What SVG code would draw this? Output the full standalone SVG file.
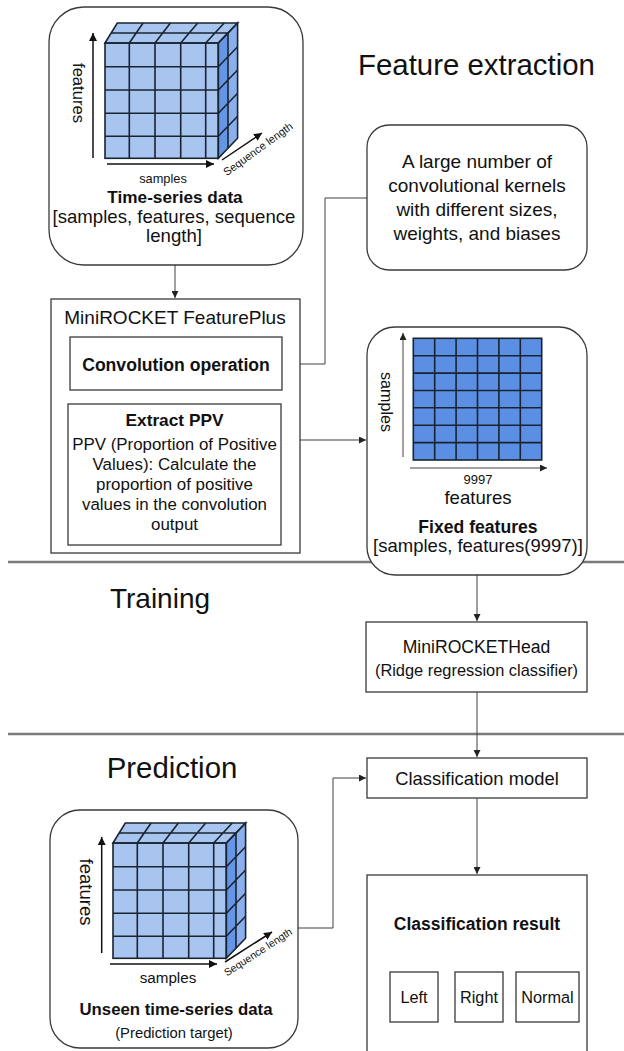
<svg xmlns="http://www.w3.org/2000/svg" width="624" height="1051" viewBox="0 0 624 1051">
  <style>
    text { font-family: "Liberation Sans", Arial, sans-serif; fill: #111; }
    .b { font-weight: bold; }
    .mid { text-anchor: middle; }
    .box { fill: #fff; stroke: #3a3a3a; stroke-width: 1.3; }
    .conn { fill: none; stroke: #404040; stroke-width: 1; }
    .axis { fill: none; stroke: #111; stroke-width: 1.5; }
    .sep { stroke: #7a7a7a; stroke-width: 2.5; }
    .grid { fill: none; stroke: #1a2430; stroke-width: 1.6; }
    .front { fill: #a8c5f0; }
    .sideA { fill: #6596e6; }
    .sideB { fill: #8aafec; }
    .cell { fill: #5b8fe3; }
  </style>
  <defs>
    <marker id="arr" viewBox="0 0 10 10" refX="10" refY="5" markerWidth="7" markerHeight="7" markerUnits="userSpaceOnUse" orient="auto">
      <path d="M0,0 L10,5 L0,10 z" fill="#222"/>
    </marker>
    <marker id="axarr" viewBox="0 0 10 10" refX="10" refY="5" markerWidth="8" markerHeight="8" markerUnits="userSpaceOnUse" orient="auto">
      <path d="M0,0 L10,5 L0,10 z" fill="#111"/>
    </marker>
    <!-- 3D block of cells: front face, top face and two-tone side face -->
    <g id="cube">
      <polygon class="front" points="0,20 113.3,20 132.6,0 12.3,0"/>
      <rect class="front" x="0" y="20" width="113.3" height="115.3"/>
      <polygon class="sideA" points="113.3,20 123,10 123,125.3 113.3,135.3"/>
      <polygon class="sideB" points="123,10 132.6,0 132.6,115.3 123,125.3"/>
      <g class="grid">
        <!-- front face -->
        <rect x="0" y="20" width="113.3" height="115.3"/>
        <path d="M24.3,20V135.3 M50,20V135.3 M75.7,20V135.3 M100.7,20V135.3"/>
        <path d="M0,43.7H113.3 M0,67H113.3 M0,90.3H113.3 M0,113.3H113.3"/>
        <!-- top face -->
        <polygon points="0,20 113.3,20 132.6,0 12.3,0"/>
        <path d="M24.3,20L38.1,0 M50,20L65.4,0 M75.7,20L92.7,0 M100.7,20L119.2,0 M6.15,10H123"/>
        <!-- side face -->
        <polygon points="113.3,20 132.6,0 132.6,115.3 113.3,135.3"/>
        <path d="M123,10V125.3 M113.3,43.7L132.6,23.7 M113.3,67L132.6,47 M113.3,90.3L132.6,70.3 M113.3,113.3L132.6,93.3"/>
      </g>
    </g>
  </defs>

  <rect width="624" height="1051" fill="#fff"/>

  <!-- section separators -->
  <line class="sep" x1="8" y1="562" x2="624" y2="562"/>
  <line class="sep" x1="8" y1="734" x2="624" y2="734"/>

  <!-- section titles -->
  <text x="476.5" y="75" class="mid" font-size="29.4">Feature extraction</text>
  <text x="160" y="608" class="mid" font-size="28">Training</text>
  <text x="172" y="778" class="mid" font-size="29.4">Prediction</text>

  <!-- connectors -->
  <g id="connectors">
    <path class="conn" d="M175,265V298" marker-end="url(#arr)"/>
    <path class="conn" d="M367,198H325V364H284" marker-end="url(#arr)"/>
    <path class="conn" d="M175,390V403" marker-end="url(#arr)"/>
    <path class="conn" d="M300,440H366" marker-end="url(#arr)"/>
    <path class="conn" d="M477,575V621" marker-end="url(#arr)"/>
    <path class="conn" d="M477,692V757" marker-end="url(#arr)"/>
    <path class="conn" d="M298,928H333V778H366" marker-end="url(#arr)"/>
    <path class="conn" d="M477,798V874" marker-end="url(#arr)"/>
    <path class="conn" d="M479,942V957 M414,972V957H548V972"/>
  </g>

  <!-- time-series input -->
  <g id="timeseries">
    <rect class="box" x="49" y="7" width="254" height="258" rx="35"/>
    <use href="#cube" transform="translate(105,23)"/>
    <path class="axis" d="M93,158V33" marker-end="url(#axarr)"/>
    <path class="axis" d="M107,164H214" marker-end="url(#axarr)"/>
    <path class="axis" d="M222,160L262,133" marker-end="url(#axarr)"/>
    <text transform="translate(79,93) rotate(90)" y="5.8" class="mid" font-size="16.6">features</text>
    <text x="163" y="183" class="mid" font-size="12.8">samples</text>
    <text transform="translate(258,149) rotate(-36)" y="3.8" class="mid" font-size="11">Sequence length</text>
    <text x="175" y="203" class="mid b" font-size="17.2">Time-series data</text>
    <text x="174" y="223" class="mid" font-size="18.6">[samples, features, sequence</text>
    <text x="174" y="242" class="mid" font-size="18.6">length]</text>
  </g>

  <!-- feature extractor -->
  <g id="featureplus">
    <rect class="box" x="51" y="299" width="249" height="254"/>
    <text x="175" y="323.5" class="mid" font-size="19">MiniROCKET FeaturePlus</text>
  </g>
  <g id="convolution">
    <rect class="box" x="70" y="337" width="212" height="53"/>
    <text x="176" y="371" class="mid b" font-size="17.6">Convolution operation</text>
  </g>
  <g id="ppv">
    <rect class="box" x="68" y="404" width="213" height="141"/>
    <text x="174.5" y="426" class="mid b" font-size="17.3">Extract PPV</text>
    <text x="174.5" y="449.5" class="mid" font-size="16.9">PPV (Proportion of Positive</text>
    <text x="174.5" y="469.5" class="mid" font-size="16.9">Values): Calculate the</text>
    <text x="174.5" y="489.5" class="mid" font-size="16.9">proportion of positive</text>
    <text x="174.5" y="509.5" class="mid" font-size="16.9">values in the convolution</text>
    <text x="174.5" y="529.5" class="mid" font-size="16.9">output</text>
  </g>

  <!-- kernel description -->
  <g id="kernels">
    <rect class="box" x="367" y="125" width="220" height="145" rx="22"/>
    <text x="477" y="168" class="mid" font-size="19">A large number of</text>
    <text x="477" y="192" class="mid" font-size="19">convolutional kernels</text>
    <text x="477" y="216" class="mid" font-size="19">with different sizes,</text>
    <text x="477" y="240" class="mid" font-size="19">weights, and biases</text>
  </g>

  <!-- fixed feature matrix -->
  <g id="fixedfeatures">
    <rect class="box" x="367" y="327" width="220" height="248" rx="28"/>
    <rect class="cell" x="413.3" y="338.3" width="128.4" height="121.7"/>
    <g class="grid">
      <rect x="413.3" y="338.3" width="128.4" height="121.7"/>
      <path d="M434.7,338.3V460 M456.1,338.3V460 M477.5,338.3V460 M498.9,338.3V460 M520.3,338.3V460"/>
      <path d="M413.3,355.7H541.7 M413.3,373.1H541.7 M413.3,390.5H541.7 M413.3,407.8H541.7 M413.3,425.2H541.7 M413.3,442.6H541.7"/>
    </g>
    <path class="conn" d="M403,457V333" marker-end="url(#arr)"/>
    <path class="conn" d="M410,468H547" marker-end="url(#arr)"/>
    <text transform="translate(387,402) rotate(90)" y="5.6" class="mid" font-size="16.1">samples</text>
    <text x="478" y="484" class="mid" font-size="13">9997</text>
    <text x="478" y="504" class="mid" font-size="18.6">features</text>
    <text x="478" y="533" class="mid b" font-size="17.6">Fixed features</text>
    <text x="478" y="552" class="mid" font-size="18.5">[samples, features(9997)]</text>
  </g>

  <!-- training head -->
  <g id="head">
    <rect class="box" x="366" y="622" width="221" height="70"/>
    <text x="476.5" y="653" class="mid" font-size="17.6">MiniROCKETHead</text>
    <text x="476.5" y="676" class="mid" font-size="16.4">(Ridge regression classifier)</text>
  </g>

  <!-- prediction -->
  <g id="model">
    <rect class="box" x="367" y="758" width="220" height="40"/>
    <text x="477" y="785" class="mid" font-size="18.4">Classification model</text>
  </g>

  <g id="unseen">
    <rect class="box" x="50" y="810" width="248" height="238" rx="30"/>
    <use href="#cube" transform="translate(113,823)"/>
    <path class="axis" d="M101.7,953V837" marker-end="url(#axarr)"/>
    <path class="axis" d="M110,964H217" marker-end="url(#axarr)"/>
    <path class="axis" d="M225,962L272,932" marker-end="url(#axarr)"/>
    <text transform="translate(86.7,892) rotate(90)" y="6.4" class="mid" font-size="18.5">features</text>
    <text x="168" y="983" class="mid" font-size="15.2">samples</text>
    <text transform="translate(258,952) rotate(-33)" y="3.6" class="mid" font-size="10.5">Sequence length</text>
    <text x="176" y="1015" class="mid b" font-size="16.8">Unseen time-series data</text>
    <text x="174" y="1038" class="mid" font-size="14.8">(Prediction target)</text>
  </g>

  <g id="result">
    <rect class="box" x="367" y="875" width="220" height="190"/>
    <text x="477" y="930" class="mid b" font-size="17.5">Classification result</text>
  </g>
  <g id="left">
    <rect class="box" x="390" y="972" width="48" height="50"/>
    <text x="414" y="1003" class="mid" font-size="16.3">Left</text>
  </g>
  <g id="right">
    <rect class="box" x="455" y="972" width="48" height="50"/>
    <text x="479" y="1003" class="mid" font-size="16.3">Right</text>
  </g>
  <g id="normal">
    <rect class="box" x="516" y="972" width="63" height="50"/>
    <text x="547.5" y="1003" class="mid" font-size="16.3">Normal</text>
  </g>
</svg>
